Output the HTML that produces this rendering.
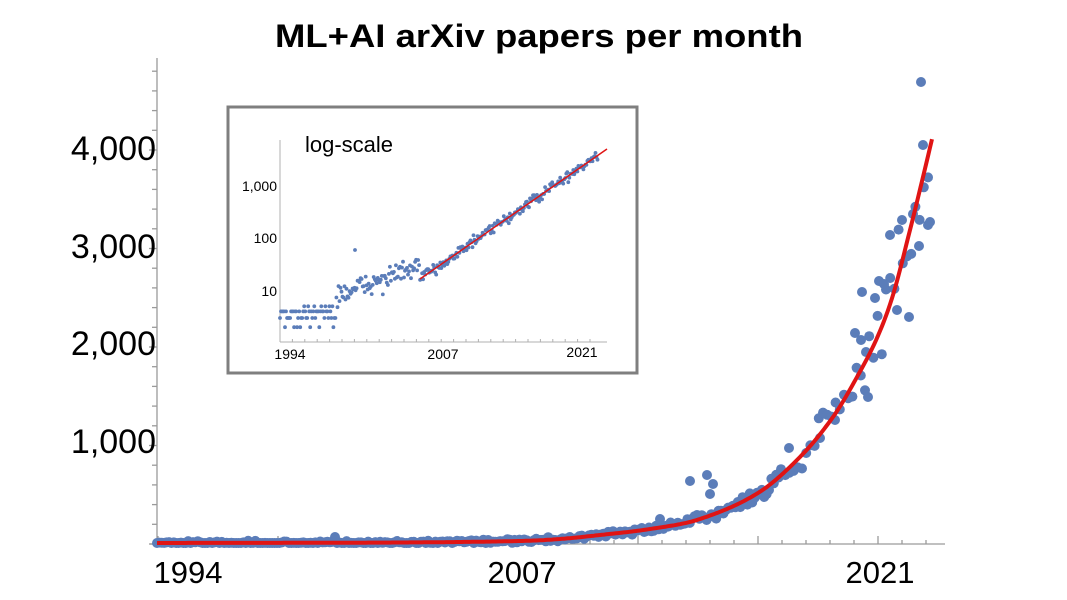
<!DOCTYPE html>
<html><head><meta charset="utf-8"><style>
html,body{margin:0;padding:0;background:#fff;width:1067px;height:600px;overflow:hidden}
svg{display:block;font-family:"Liberation Sans",sans-serif}
</style></head><body>
<svg id="s" width="1067" height="600" viewBox="0 0 1067 600" xmlns="http://www.w3.org/2000/svg">
<rect width="1067" height="600" fill="#fff"/>
<text x="539" y="47" text-anchor="middle" font-size="32" font-weight="bold" textLength="528" lengthAdjust="spacingAndGlyphs" fill="#000">ML+AI arXiv papers per month</text>
<g id="axes" stroke="#9a9a9a" stroke-width="1.3"></g>
<g font-size="34" fill="#000" text-anchor="end">
<text x="156" y="160">4,000</text>
<text x="156" y="258">3,000</text>
<text x="156" y="355">2,000</text>
<text x="156" y="453">1,000</text>
</g>
<g font-size="31" fill="#000" text-anchor="middle">
<text x="188" y="583">1994</text>
<text x="522" y="583">2007</text>
<text x="880" y="583">2021</text>
</g>
<g id="dots" fill="#5b7db9"></g>
<path id="curve" fill="none" stroke="#e01414" stroke-width="4" stroke-linejoin="round"/>
<rect x="228" y="107" width="409" height="266" fill="#fff" stroke="#7f7f7f" stroke-width="3"/>
<g id="iaxes" stroke="#b0b0b0" stroke-width="1"></g>
<text x="305" y="152" font-size="22" fill="#000">log-scale</text>
<g font-size="14" fill="#000" text-anchor="end">
<text x="277" y="191">1,000</text>
<text x="277" y="243">100</text>
<text x="277" y="296">10</text>
</g>
<g font-size="14" fill="#000" text-anchor="middle">
<text x="290" y="359">1994</text>
<text x="443" y="359">2007</text>
<text x="582" y="357">2021</text>
</g>
<g id="idots" fill="#5b7db9"></g>
<line x1="420" y1="279" x2="607" y2="149" stroke="#e01414" stroke-width="1.5"/>
</svg>
<script>
var NS="http://www.w3.org/2000/svg";
function el(p,t,a){var e=document.createElementNS(NS,t);for(var k in a)e.setAttribute(k,a[k]);p.appendChild(e);return e;}
var seed=12345;function rnd(){seed=(seed*16807)%2147483647;return seed/2147483647;}
function gauss(){return (rnd()+rnd()+rnd()+rnd()-2)*0.87;}
var ax=document.getElementById('axes');
el(ax,'line',{x1:157,y1:58,x2:157,y2:545});
el(ax,'line',{x1:150,y1:544,x2:945,y2:544});
for(var i=0;i<25;i++){var y=544-i*19.7;var maj=(i%5==0);el(ax,'line',{x1:maj?149:152,y1:y,x2:157,y2:y});}
for(var x=158;x<=930;x+=24){var maj=Math.abs((x-158)%120)<1;el(ax,'line',{x1:x,y1:544,x2:x,y2:maj?536:540});}
var cp=[[157,543],[400,542.5],[520,541],[560,539],[600,535],[650,529],[700,519],[758,493],[800,457],[833,417],[857,377],[877,338],[893,295],[910,230],[923,177],[933,135]];
function cy(x){for(var i=0;i<cp.length-1;i++){if(x<=cp[i+1][0]){var p0=cp[Math.max(0,i-1)],p1=cp[i],p2=cp[i+1],p3=cp[Math.min(cp.length-1,i+2)];var t=(x-p1[0])/(p2[0]-p1[0]);
var m1=(p2[1]-p0[1])/(p2[0]-p0[0])*(p2[0]-p1[0]),m2=(p3[1]-p1[1])/(p3[0]-p1[0])*(p2[0]-p1[0]);
var t2=t*t,t3=t2*t;return (2*t3-3*t2+1)*p1[1]+(t3-2*t2+t)*m1+(-2*t3+3*t2)*p2[1]+(t3-t2)*m2;}}return cp[cp.length-1][1];}
var d="M"+cp[0][0]+","+cp[0][1];for(var x=160;x<=933;x+=2)d+=" L"+x+","+cy(x).toFixed(1);
document.getElementById('curve').setAttribute('d',d);
var dots=document.getElementById('dots');
for(var x=157;x<=930;x+=(x>780?4.2:2.4)){var v=544-cy(x);var n=v*(1+0.18*gauss())+gauss()*2;var y=544-Math.max(1,n);el(dots,'circle',{cx:x.toFixed(1),cy:y.toFixed(1),r:5});}
var extra=[[921,82],[923,145],[902,220],[913,214],[928,225],[930,222],[890,235],[919,246],[897,310],[909,317],[875,298],[868,397],[789,448],[690,481],[707,475],[713,484],[710,494],[660,519],[862,292],[879,281],[884,284],[861,340],[866,352],[820,438],[835,420],[855,333],[335,537]];
extra.forEach(function(p){el(dots,'circle',{cx:p[0],cy:p[1],r:5});});
var ia=document.getElementById('iaxes');
el(ia,'line',{x1:280,y1:140,x2:280,y2:342});
el(ia,'line',{x1:280,y1:342,x2:607,y2:342});
for(var x=280;x<=600;x+=12.4)el(ia,'line',{x1:x,y1:342,x2:x,y2:339});
var idots=document.getElementById('idots');
function iy(v){return 343-52.5*Math.log10(v);}
for(var yr=1994;yr<=2022.4;yr+=0.09){var x=280+(yr-1994)*11.2;var v;
 if(yr<1999){v=[2,3,3,4,4,5,5,2,3,4][Math.floor(rnd()*10)];if(rnd()<0.05)v=7+rnd()*3;}
 else if(yr<2006.5){v=Math.pow(10,0.9+(yr-1999)*0.075+0.2*gauss());}
 else{v=Math.pow(10,1.22+(yr-2006.5)*0.148+0.1*gauss());}
 el(idots,'circle',{cx:x.toFixed(1),cy:iy(v).toFixed(1),r:1.9});}
el(idots,'circle',{cx:355,cy:250,r:1.9});
</script>
</body></html>
